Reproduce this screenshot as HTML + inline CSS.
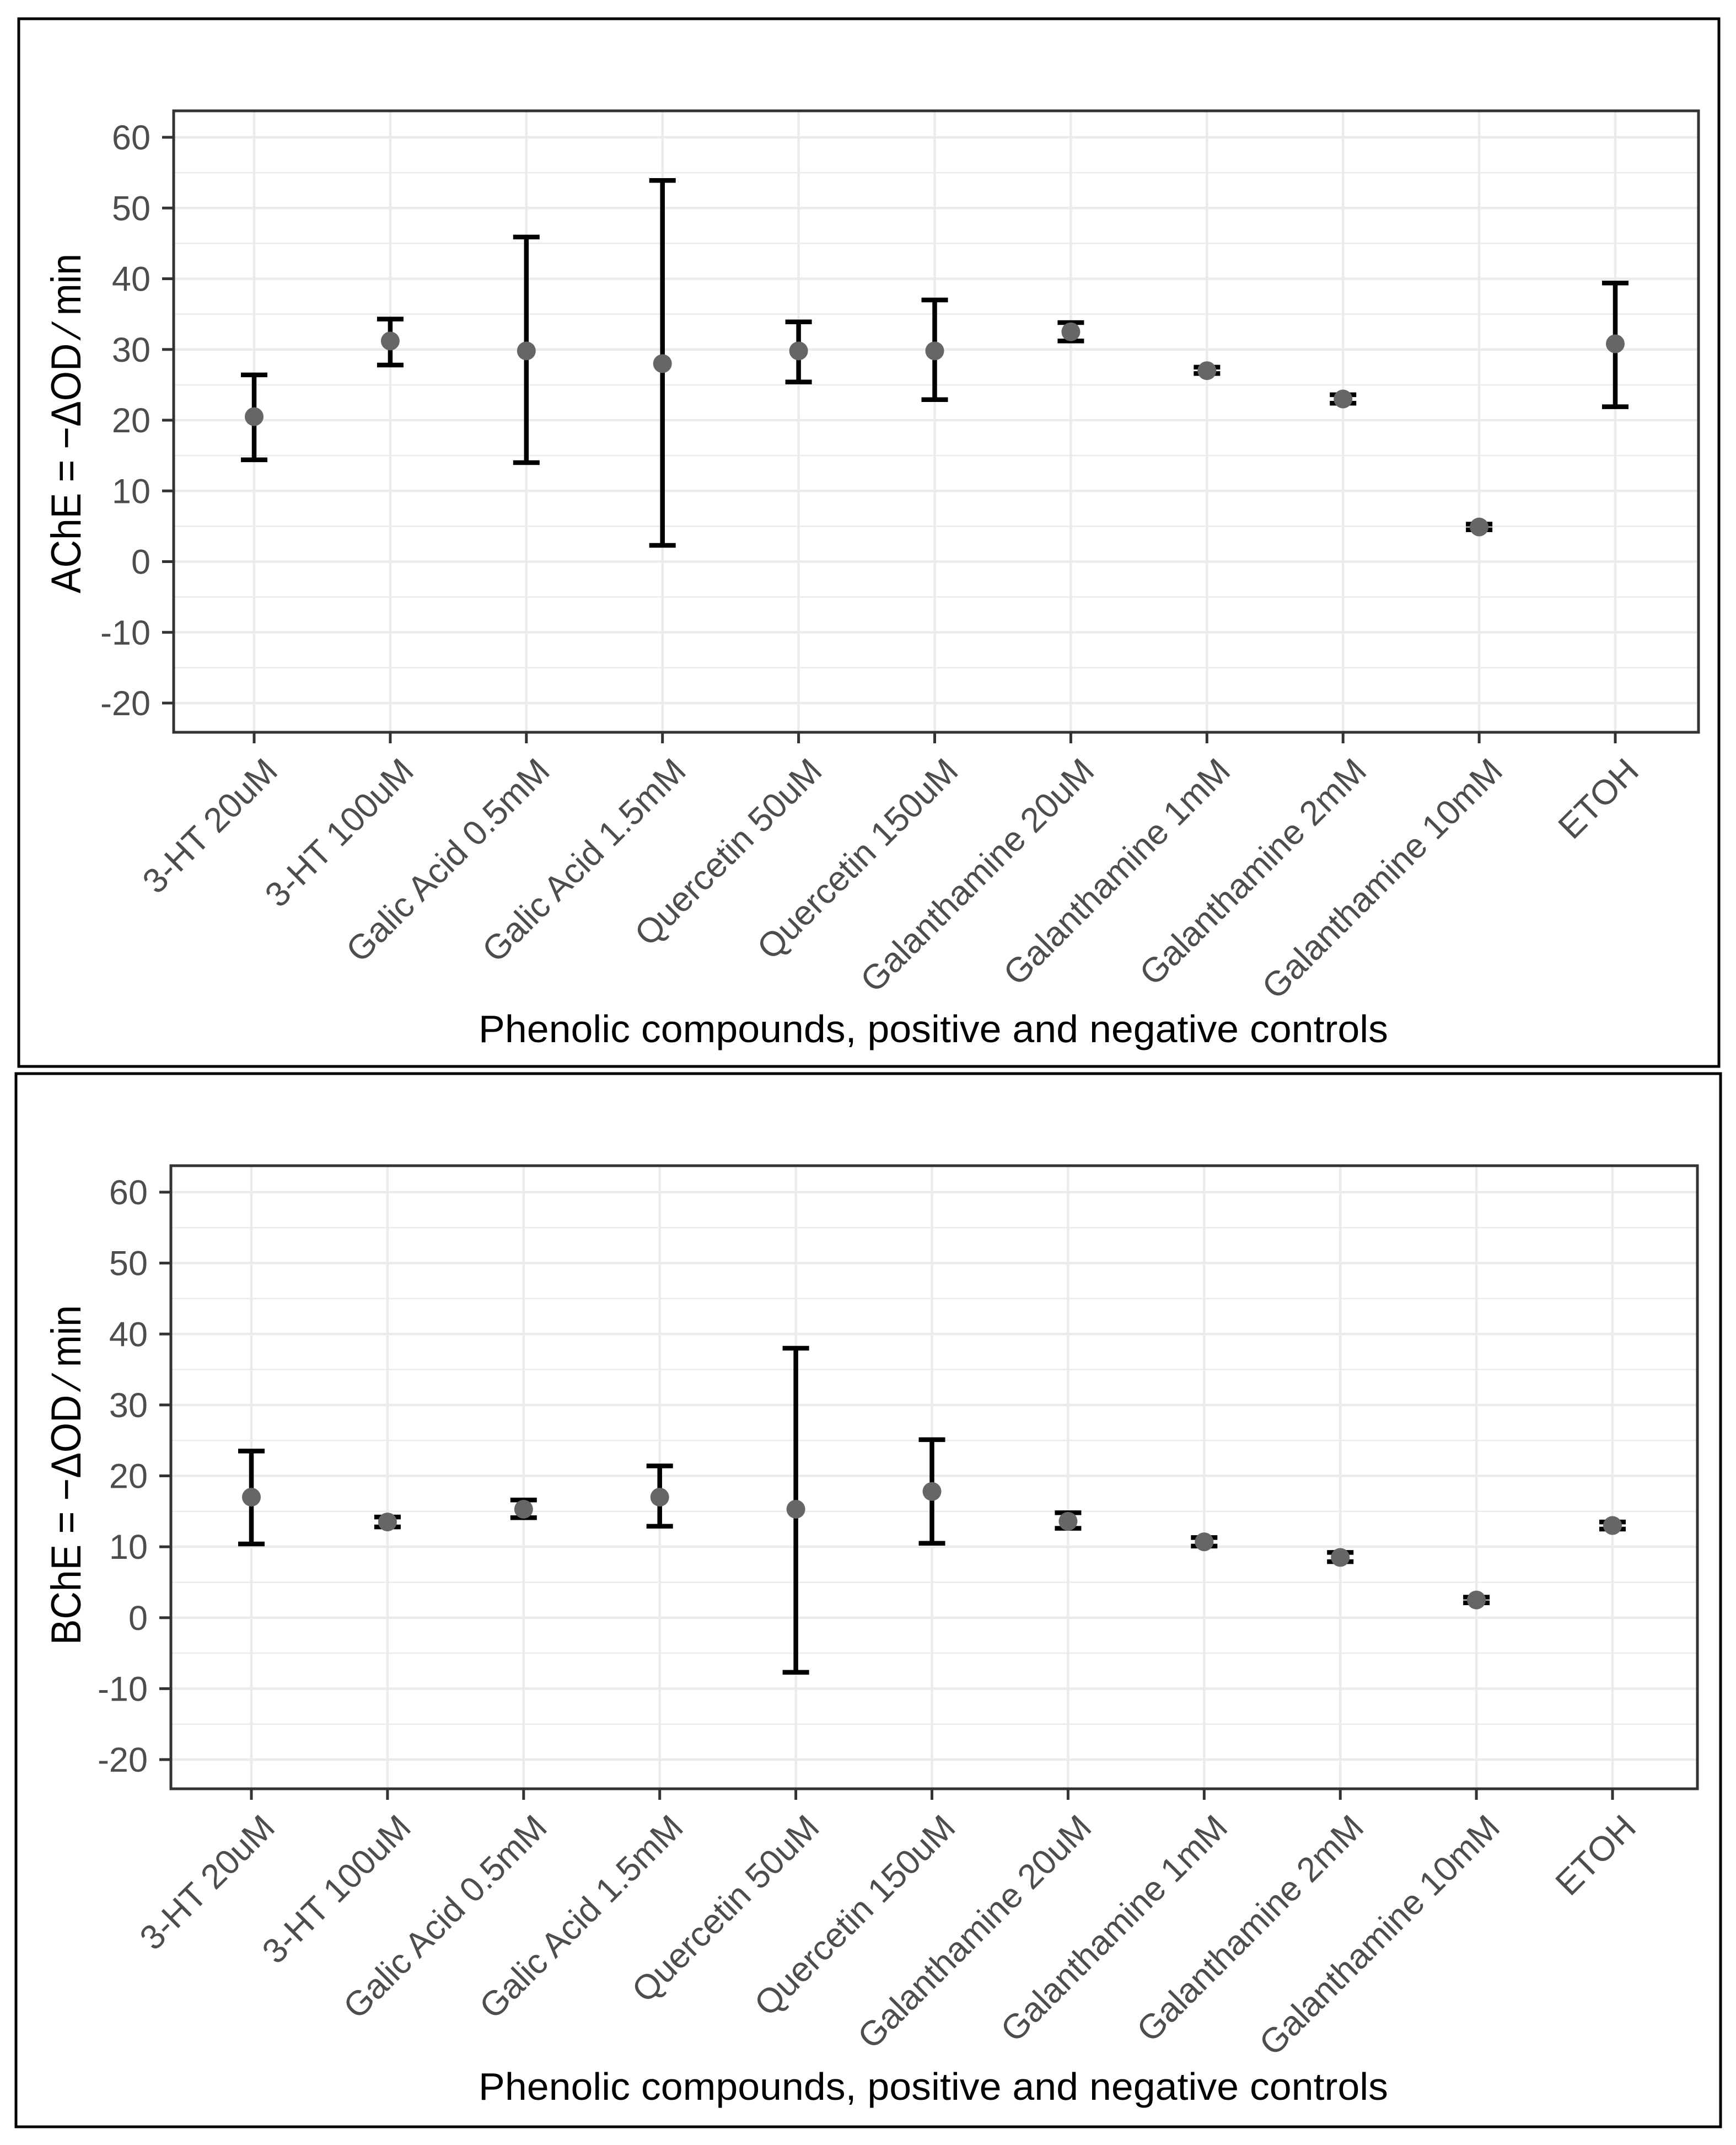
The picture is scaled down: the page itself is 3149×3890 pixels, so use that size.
<!DOCTYPE html>
<html><head><meta charset="utf-8"><style>
html,body{margin:0;padding:0;background:#fff}
svg{display:block}
text{font-family:"Liberation Sans",Arial,sans-serif}
</style></head><body>
<svg id="chart" xmlns="http://www.w3.org/2000/svg" width="3149" height="3890" viewBox="0 0 3149 3890">
<rect x="0" y="0" width="3149" height="3890" fill="#fff"/>
</svg>
<script>
const categories = ["3-HT 20uM","3-HT 100uM","Galic Acid 0.5mM","Galic Acid 1.5mM","Quercetin 50uM","Quercetin 150uM","Galanthamine 20uM","Galanthamine 1mM","Galanthamine 2mM","Galanthamine 10mM","ETOH"];
const yTicks = [-20,-10,0,10,20,30,40,50,60];
const achMean = [20.5,31.2,29.8,28.0,29.8,29.8,32.5,27.0,23.0,4.9,30.8];
const achLo   = [14.4,27.8,14.0,2.3,25.4,22.9,31.2,26.6,22.4,4.5,21.9];
const achHi   = [26.4,34.3,45.9,53.9,33.9,37.0,33.8,27.5,23.6,5.3,39.4];
const bchMean = [17.0,13.5,15.3,17.0,15.3,17.8,13.6,10.7,8.5,2.5,13.0];
const bchLo   = [10.4,12.8,14.1,12.9,-7.7,10.5,12.6,10.1,7.9,2.1,12.5];
const bchHi   = [23.5,14.2,16.6,21.4,38.0,25.1,14.8,11.3,9.2,2.9,13.5];

const NS = "http://www.w3.org/2000/svg";
const svg = document.getElementById("chart");
function mk(tag, attrs, parent){
  const e = document.createElementNS(NS, tag);
  for (const k in attrs) e.setAttribute(k, attrs[k]);
  (parent||svg).appendChild(e);
  return e;
}

function panel(cfg){
  const g = mk("g", {});
  
  
  const outer = mk("rect", {x:cfg.ox, y:cfg.oy, width:cfg.ow, height:cfg.oh, fill:"none", stroke:"#000", "stroke-width":5}, g);
  
  
  const L = cfg.left, R = cfg.right, T = cfg.top, B = cfg.bottom;
  const y = v => cfg.y60 + (60 - v) * (cfg.ym20 - cfg.y60) / 80;
  const x = i => cfg.x0 + i * cfg.dx;
  for (let v = -25; v <= 65; v += 10) {
    const yy = y(v); if (yy < T || yy > B) continue;
    const l = mk("line", {x1:L, x2:R, y1:yy, y2:yy, stroke:"#ebebeb", "stroke-width":2.5}, g);
    
    
  }
  yTicks.forEach(v => {
    const l = mk("line", {x1:L, x2:R, y1:y(v), y2:y(v), stroke:"#ebebeb", "stroke-width":4.5}, g);
    
    
  });
  categories.forEach((c, i) => {
    const l = mk("line", {x1:x(i), x2:x(i), y1:T, y2:B, stroke:"#ebebeb", "stroke-width":4.5}, g);
    
    
  });
  categories.forEach((c, i) => {
    const eb = mk("path", {d:`M${x(i)-24},${y(cfg.hi[i])}H${x(i)+24}M${x(i)},${y(cfg.hi[i])}V${y(cfg.lo[i])}M${x(i)-24},${y(cfg.lo[i])}H${x(i)+24}`, stroke:"#000", "stroke-width":8.5, fill:"none"}, g);
    
    
  });
  categories.forEach((c, i) => {
    const p = mk("circle", {cx:x(i), cy:y(cfg.mean[i]), r:17, fill:"#666"}, g);
    
    
  });
  const border = mk("rect", {x:L, y:T, width:R-L, height:B-T, fill:"none", stroke:"#333", "stroke-width":5}, g);
  
  
  yTicks.forEach(v => {
    const t = mk("line", {x1:L-21, x2:L, y1:y(v), y2:y(v), stroke:"#333", "stroke-width":5}, g);
    
    
    const lb = mk("text", {x:L-42, y:y(v)+22, "text-anchor":"end", "font-size":63, fill:"#4d4d4d"}, g);
    lb.textContent = v < 0 ? "-" + Math.abs(v) : String(v);
    
    
  });
  categories.forEach((c, i) => {
    const t = mk("line", {x1:x(i), x2:x(i), y1:B, y2:B+20, stroke:"#333", "stroke-width":5}, g);
    
    
    const tx = x(i) + 46, ty = B + 74;
    const lb = mk("text", {x:tx, y:ty, "text-anchor":"end", "font-size":63, fill:"#4d4d4d", transform:`rotate(-45 ${tx} ${ty})`}, g);
    lb.textContent = c;
    
    
  });
  const xt = mk("text", {x:1693, y:cfg.xTitleY, "text-anchor":"middle", "font-size":70, fill:"#000", textLength:1650, lengthAdjust:"spacingAndGlyphs"}, g);
  xt.textContent = "Phenolic compounds, positive and negative controls";
  
  
  const cy = cfg.yTitleY, bx = 146;
  const yt = mk("text", {x:bx, y:cy, "text-anchor":"middle", "font-size":76, fill:"#000", transform:`rotate(-90 ${bx} ${cy})`, textLength:616, lengthAdjust:"spacingAndGlyphs"}, g);
  yt.textContent = cfg.enzyme + " = \u2212\u0394OD \u2215 min";
  
  
}

panel({name:"ache-panel", enzyme:"AChE", mean:achMean, lo:achLo, hi:achHi,
  ox:34, oy:34, ow:3084, oh:1900, left:315, right:3081, top:201, bottom:1328,
  y60:249, ym20:1275, x0:461, dx:246.9, xTitleY:1890, yTitleY:768});
panel({name:"bche-panel", enzyme:"BChE", mean:bchMean, lo:bchLo, hi:bchHi,
  ox:29, oy:1947, ow:3092, oh:1910, left:310, right:3079, top:2114, bottom:3244,
  y60:2162, ym20:3191, x0:456, dx:246.9, xTitleY:3808, yTitleY:2675});
</script>
</body></html>
